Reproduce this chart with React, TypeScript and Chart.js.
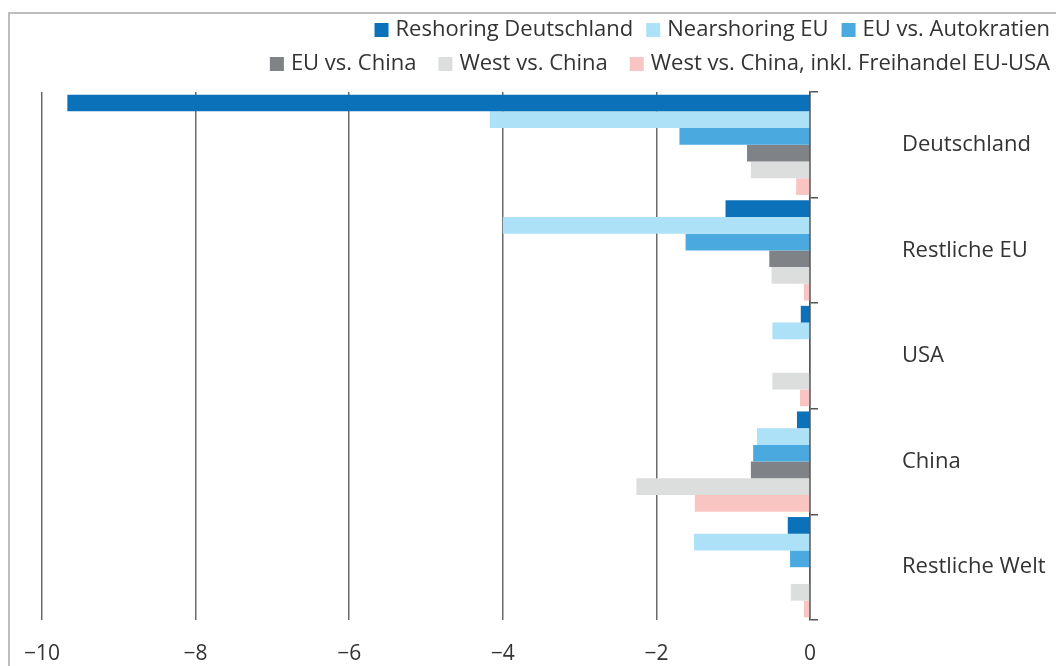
import React, { useEffect, useRef } from "react";
import { Chart, registerables } from "chart.js";

Chart.register(...registerables);

const categories = ["Deutschland", "Restliche EU", "USA", "China", "Restliche Welt"];
const seriesNames = [
  "Reshoring Deutschland",
  "Nearshoring EU",
  "EU vs. Autokratien",
  "EU vs. China",
  "West vs. China",
  "West vs. China, inkl. Freihandel EU-USA",
];
const reshoringDeutschland = [-9.67, -1.1, -0.12, -0.17, -0.29];
const nearshoringEU = [-4.17, -4.0, -0.49, -0.69, -1.51];
const euVsAutokratien = [-1.7, -1.62, 0.02, -0.74, -0.26];
const euVsChina = [-0.82, -0.53, 0, -0.77, 0];
const westVsChina = [-0.77, -0.5, -0.49, -2.26, -0.25];
const westVsChinaFreihandel = [-0.18, -0.08, -0.13, -1.5, -0.08];
const seriesColors = ["#0b72b9", "#ade1f8", "#4aaae0", "#7f8286", "#dcdddd", "#f8c5c3"];
const xMin = -10;
const xMax = 0;
const xStep = 2;
const legendRows = [
  [0, 1, 2],
  [3, 4, 5],
];

const FONT = "'Open Sans', 'Noto Sans', sans-serif";
const TEXT = "#333333";

const legendPlugin = {
  id: "customLegend",
  afterDraw(chart: any) {
    const ctx = chart.ctx;
    const right = chart.width - 6;
    const rowY = [16, 50];
    const box = 14;
    const boxGap = 7;
    const itemGaps = [13, 22];
    ctx.save();
    ctx.font = `22px ${FONT}`;
    ctx.textBaseline = "middle";
    ctx.textAlign = "left";
    legendRows.forEach((row, r) => {
      let x = right;
      for (let i = row.length - 1; i >= 0; i--) {
        const ds = chart.data.datasets[row[i]];
        const w = ctx.measureText(ds.label).width;
        const tx = x - w;
        ctx.fillStyle = TEXT;
        ctx.fillText(ds.label, tx, rowY[r]);
        const bx = tx - boxGap - box;
        ctx.fillStyle = ds.backgroundColor;
        ctx.fillRect(bx, rowY[r] - box / 2, box, box);
        x = bx - itemGaps[r];
      }
    });
    ctx.restore();
  },
};

export default function App() {
  const ref = useRef<HTMLCanvasElement>(null);
  useEffect(() => {
    if (!ref.current) return;
    const values = [
      reshoringDeutschland,
      nearshoringEU,
      euVsAutokratien,
      euVsChina,
      westVsChina,
      westVsChinaFreihandel,
    ];
    const chart = new Chart(ref.current, {
      type: "bar",
      data: {
        labels: categories,
        datasets: values.map((v, i) => ({
          label: seriesNames[i],
          data: v,
          backgroundColor: seriesColors[i],
          borderWidth: 0,
          categoryPercentage: 0.95,
          barPercentage: 1,
        })),
      },
      options: {
        indexAxis: "y",
        animation: false,
        responsive: true,
        maintainAspectRatio: false,
        layout: { padding: { top: 78, left: 32, right: 0, bottom: 0 } },
        plugins: {
          legend: { display: false },
          tooltip: { enabled: false },
        },
        scales: {
          x: {
            type: "linear",
            min: xMin,
            max: xMax,
            ticks: {
              stepSize: xStep,
              padding: 21,
              color: TEXT,
              font: { family: FONT, size: 21 },
              callback: (v: any) => (Number(v) < 0 ? "\u2212" + Math.abs(Number(v)) : String(v)),
            },
            grid: { color: "#6a6a6a", lineWidth: 1.5, drawTicks: false },
            border: { display: false },
            afterFit: (s: any) => {
              s.height = 46;
              s.paddingLeft = 0;
              s.paddingRight = 0;
            },
          },
          y: {
            type: "category",
            position: "right",
            ticks: {
              padding: 84,
              color: TEXT,
              font: { family: FONT, size: 22 },
            },
            grid: {
              drawOnChartArea: false,
              drawTicks: true,
              tickLength: 8,
              color: "#555555",
              lineWidth: 1.5,
              offset: true,
            },
            border: { display: true, color: "#555555", width: 1.5 },
            afterFit: (s: any) => {
              s.width = 246;
              s.paddingTop = 0;
              s.paddingBottom = 0;
            },
          },
        },
      },
      plugins: [legendPlugin],
    } as any);
    return () => chart.destroy();
  }, []);

  return (
    <div
      style={{
        position: "fixed",
        left: 8,
        top: 12,
        width: 1056,
        height: 660,
        borderTop: "2px solid #bdbdbd",
        borderLeft: "2px solid #bdbdbd",
        background: "#fff",
      }}
    >
      <div style={{ position: "relative", width: 1046, height: 652 }}>
        <canvas ref={ref} />
      </div>
    </div>
  );
}
